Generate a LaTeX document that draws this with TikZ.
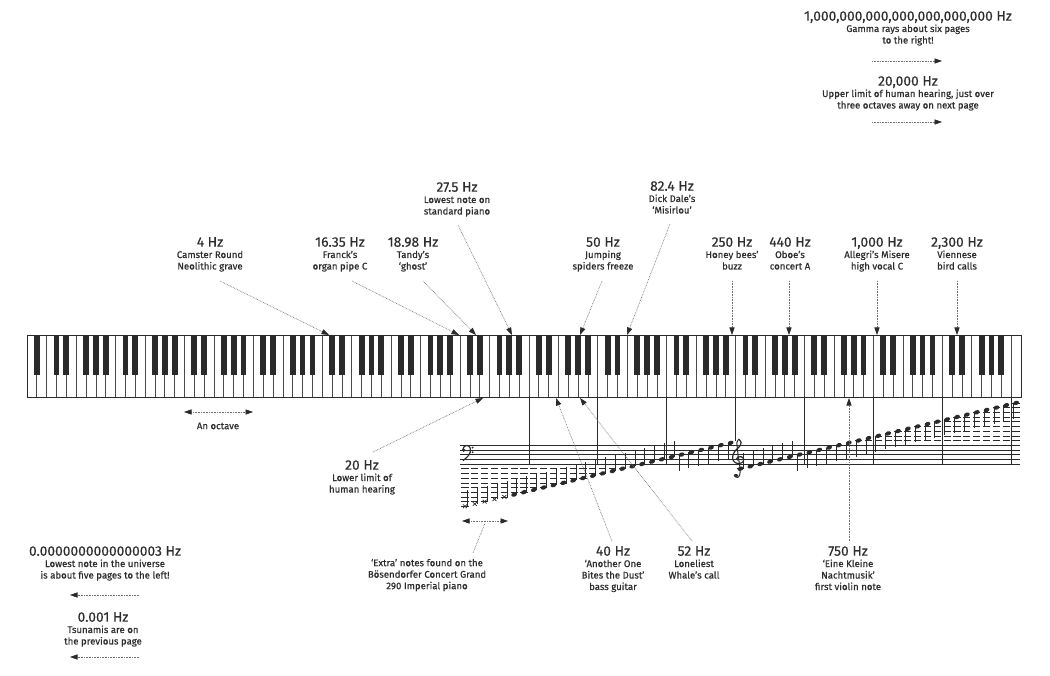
\documentclass[tikz,border=0pt]{standalone}
\usepackage{fontspec}
\setmainfont{Fira Sans}
\newfontfamily\tfont{Fira Sans}[FakeBold=0.35,Ligatures=TeX]
\newfontfamily\dfont{Fira Sans}[FakeBold=0.55,Ligatures=TeX]
\usetikzlibrary{arrows.meta,calc}
\definecolor{ink}{HTML}{2A2A2A}
\definecolor{txt}{HTML}{2E2E2E}
\definecolor{dotc}{HTML}{707070}
\definecolor{keyline}{HTML}{4A4A4A}
\tikzset{
  ttl/.style={font=\tfont\fontsize{13.8}{15}\selectfont, text=txt, inner sep=0pt, anchor=base},
  dsc/.style={font=\dfont\fontsize{9.6}{11}\selectfont, text=txt, inner sep=0pt, anchor=base},
  tipA/.tip={Triangle[length=7.5pt,width=5.2pt,color=ink]},
  ptr/.style={draw=dotc, line width=0.65pt, dash pattern=on 0.7pt off 0.9pt, -tipA},
  dptr/.style={draw=dotc, line width=0.65pt, dash pattern=on 0.7pt off 0.9pt, tipA-tipA},
  dline/.style={draw=dotc, line width=0.65pt, dash pattern=on 0.7pt off 0.9pt},
  keyw/.style={draw=keyline, fill=white, line width=0.7pt},
  keyb/.style={fill=ink},
  staffline/.style={draw=ink, line width=0.7pt},
  cline/.style={draw=ink, line width=0.7pt},
  ledger/.style={draw=ink, line width=0.6pt},
  stemline/.style={draw=ink, line width=0.6pt},
}
\newcommand\lab[5]{%
  \node[ttl] (#1) at (#2,#3+4.7) {#4};
  \foreach \ln [count=\k] in {#5}{
    \node[dsc] (#1-\k) at (#2,{#3+16+(\k-1)*11.5}) {\ln};
  }
}
\newcommand\desc[4]{%
  \foreach \ln [count=\k] in {#4}{
    \node[dsc] (#1-\k) at (#2,{#3+3.2+(\k-1)*11.5}) {\ln};
  }
}
\begin{document}
\begin{tikzpicture}[x=1pt,y=-1pt]
\useasboundingbox (0,0) rectangle (1050,676);
\pgfmathsetmacro\w{994/101}

% ---------- keyboard ----------
\foreach \i in {0,...,100}{
  \draw[keyw] ({27+\i*\w},335) rectangle ++(\w,62);
}
\foreach \i in {0,...,99}{
  \pgfmathtruncatemacro\L{mod(\i+5,7)}
  \ifnum\L=2 \else\ifnum\L=6 \else
    \fill[keyb] ({27+(\i+1)*\w-2.9},335) rectangle ++(5.8,40);
  \fi\fi
}
\draw[draw=ink, line width=0.9pt] (27,335) rectangle (1021,397);

% ---------- staff ----------
\foreach \k in {0,...,4}{
  \draw[staffline] (460,{445.2+\k*4.7}) -- (1020,{445.2+\k*4.7});
}
\foreach \k in {7,...,14}{
  \pgfmathsetmacro\cx{27+(2+7*\k)*\w}
  \ifnum\k=10
    \draw[cline] (\cx,397) -- (\cx,441);
  \else
    \draw[cline] (\cx,397) -- (\cx,464);
  \fi
}

% bass clef
\begin{scope}[shift={(462,449.9)}, x=4.7pt, y=4.7pt]
  \fill[ink] (0.35,-0.05) circle (0.4);
  \draw[ink, line width=1.2pt] plot[smooth] coordinates {(0.2,0.1) (0.5,0.75) (1.1,0.95) (1.7,0.5) (1.75,-0.5) (1.2,-1.4) (0.2,-2.3)};
  \fill[ink] (2.25,0.5) circle (0.22);
  \fill[ink] (2.25,-0.5) circle (0.22);
\end{scope}

% treble clef
\begin{scope}[shift={(738,459.3)}, x=7pt, y=4.7pt]
  \draw[ink, line width=1.2pt] plot[smooth] coordinates {(0.1,4.3) (0.45,3.6) (0.2,2.7) (-0.35,1.9) (-0.7,1.0) (-0.75,0.0) (-0.4,-0.7) (0.2,-0.9) (0.7,-0.55) (0.8,0.1) (0.45,0.55) (0.0,0.5) (-0.2,0.1) (0.05,-0.2)};
  \draw[ink, line width=1.0pt] plot[smooth] coordinates {(0.1,4.3) (-0.15,3.6) (-0.1,2.5) (0.0,1.0) (0.15,-0.5) (0.3,-2.0) (0.25,-3.3) (-0.05,-3.85) (-0.4,-3.7)};
  \fill[ink] (-0.3,-3.45) circle (0.32);
\end{scope}

% notes C0 .. C8
\foreach \i in {0,...,56}{
  \pgfmathsetmacro\nx{27+(44.5+\i)*\w}
  \pgfmathsetmacro\ny{\i<28 ? 464-(\i-18)*2.35 : 464-(\i-30)*2.35}
  \pgfmathtruncatemacro\up{or(\i<22, and(\i>27,\i<34))}
  \ifnum\i<17
    \foreach \d in {16,14,...,0}{\ifnum\d<\i\else \draw[ledger] (\nx-3.6,{464+(18-\d)*2.35}) -- ++(7.2,0);\fi}
  \fi
  \ifnum\i=28 \draw[ledger] (\nx-3.6,468.7) -- ++(7.2,0); \fi
  \ifnum\i>39
    \foreach \d in {40,42,...,56}{\ifnum\d>\i\else \draw[ledger] (\nx-3.6,{464-(\d-30)*2.35}) -- ++(7.2,0);\fi}
  \fi
  \ifnum\i<5
    \draw[ink, line width=0.7pt] (\nx-2,\ny-1.8) -- (\nx+2,\ny+1.8) (\nx-2,\ny+1.8) -- (\nx+2,\ny-1.8);
  \else
    \fill[ink, rotate around={20:(\nx,\ny)}] (\nx,\ny) ellipse (3 and 2.1);
  \fi
  \ifnum\up=1
    \draw[stemline] (\nx+2.6,\ny) -- ++(0,-16);
  \else
    \draw[stemline] (\nx-2.6,\ny) -- ++(0,16);
  \fi
}

% ---------- labels ----------
\lab{gam}{908}{16}{1,000,000,000,000,000,000,000 Hz}{Gamma rays about six pages,to the right!}
\lab{up}{908}{81}{20,000 Hz}{{Upper limit of human hearing, just over},three octaves away on next page}
\lab{fa}{457}{187}{27.5 Hz}{Lowest note on,standard piano}
\lab{fe}{672}{186}{82.4 Hz}{Dick Dale’s,‘Misirlou’}
\lab{ffour}{210}{242}{4 Hz}{Camster Round,Neolithic grave}
\lab{fsix}{340}{242}{16.35 Hz}{Franck’s,organ pipe C}
\lab{fnine}{413}{242}{18.98 Hz}{Tandy’s,‘ghost’}
\lab{ffifty}{603}{242}{50 Hz}{Jumping,spiders freeze}
\lab{fbee}{732}{242}{250 Hz}{Honey bees’,buzz}
\lab{foboe}{790}{242}{440 Hz}{Oboe’s,concert A}
\lab{fall}{877}{242}{1,000 Hz}{Allegri’s Misere,high vocal C}
\lab{fbird}{957}{242}{2,300 Hz}{Viennese,bird calls}
\lab{ftwenty}{362}{465}{20 Hz}{Lower limit of,human hearing}
\lab{flow}{105}{551}{0.0000000000000003 Hz}{Lowest note in the universe,is about five pages to the left!}
\lab{ftsu}{103}{617}{0.001 Hz}{Tsunamis are on,the previous page}
\lab{fforty}{613}{551}{40 Hz}{‘Another One,Bites the Dust’,bass guitar}
\lab{fwhale}{694}{551}{52 Hz}{Loneliest,Whale’s call}
\lab{fmozart}{848}{551}{750 Hz}{‘Eine Kleine,Nachtmusik’,first violin note}
\desc{oct}{218}{426}{An octave}
\desc{ext}{427}{563}{‘Extra’ notes found on the,Bösendorfer Concert Grand,290 Imperial piano}

% ---------- connector ends ----------
\coordinate (k4) at (329,335);   \coordinate (s4) at (220,281);
\coordinate (k16) at (459,335);  \coordinate (s16) at (352,281);
\coordinate (k19) at (476,335);  \coordinate (s19) at (423,281);
\coordinate (k27) at (512,335);  \coordinate (s27) at (458,225);
\coordinate (k50) at (580,335);  \coordinate (s50) at (602,281);
\coordinate (k82) at (627,335);  \coordinate (s82) at (670,224);
\coordinate (k250) at (732,335); \coordinate (s250) at (732,281);
\coordinate (k440) at (789,335); \coordinate (s440) at (789,281);
\coordinate (k1k) at (877,335);  \coordinate (s1k) at (877,281);
\coordinate (k2k) at (957,335);  \coordinate (s2k) at (957,281);
\coordinate (k20) at (483,398);  \coordinate (s20) at (373,452);
\coordinate (k40) at (556,398);  \coordinate (s40) at (612,541);
\coordinate (k52) at (580,398);  \coordinate (s52) at (692,541);
\coordinate (k750) at (849,398); \coordinate (s750) at (849,541);
\coordinate (octL) at (184,412); \coordinate (octR) at (253,412);
\coordinate (extL) at (462,521); \coordinate (extR) at (508,521);
\coordinate (extT) at (485,523); \coordinate (extB) at (473,553);
\coordinate (lowR) at (139,595); \coordinate (lowL) at (70,595);
\coordinate (tsuR) at (139,657); \coordinate (tsuL) at (70,657);
\coordinate (gamL) at (872,61);  \coordinate (gamR) at (942,61);
\coordinate (upL) at (872,122);  \coordinate (upR) at (942,122);

\foreach \a in {4,16,19,27,50,82,250,440,1k,2k,20,40,52,750}{
  \draw[ptr] (s\a) -- (k\a);
}
\draw[dptr] (octL) -- (octR);
\draw[dptr] (extL) -- (extR);
\draw[dline] (extB) -- (extT);
\draw[ptr] (lowR) -- (lowL);
\draw[ptr] (tsuR) -- (tsuL);
\draw[ptr] (gamL) -- (gamR);
\draw[ptr] (upL) -- (upR);
\end{tikzpicture}
\end{document}
